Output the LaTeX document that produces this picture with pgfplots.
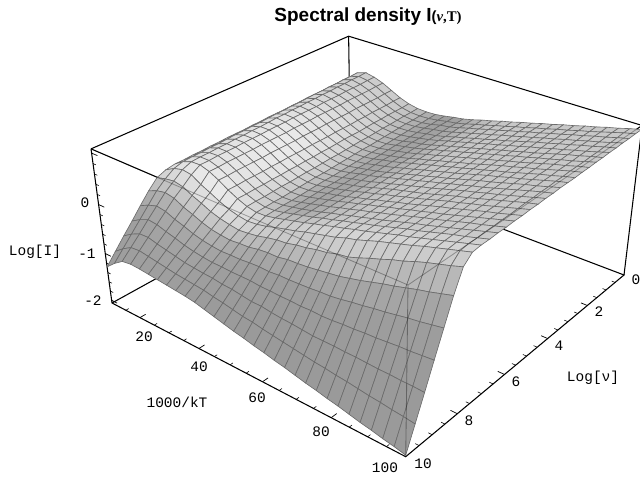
\documentclass[border=0pt]{standalone}
\usepackage{pgfplots}
\usepackage{pgfplotstable}
\usepackage{fontspec}
\pgfplotsset{compat=1.18}
\setmainfont{Liberation Sans}
\newfontfamily\mono{Liberation Mono}
\newfontfamily\serifb{Liberation Serif}
% Log[I] on a grid: 31 values per row (1000/kT = 10,13,...,100), 31 rows (Log[nu] = 0,1/3,...,10)
\pgfplotstableread[row sep=\\]{z\\
.17\\.33\\.39\\.35\\.28\\.18\\.08\\.01\\-.03\\-.04\\-.03\\0\\.04\\.07\\.12\\.18\\.23\\.29\\.34\\.40\\.45\\.51\\.56\\.62\\.67\\.73\\.78\\.84\\.89\\.95\\1.0\\
.17\\.32\\.38\\.35\\.28\\.18\\.08\\0\\-.04\\-.05\\-.04\\-.01\\.03\\.06\\.11\\.17\\.22\\.28\\.33\\.39\\.44\\.50\\.55\\.61\\.66\\.72\\.77\\.83\\.89\\.95\\1.0\\
.16\\.32\\.38\\.34\\.27\\.17\\.07\\0\\-.04\\-.06\\-.05\\-.02\\.03\\.06\\.11\\.17\\.22\\.28\\.33\\.39\\.44\\.50\\.55\\.61\\.66\\.72\\.77\\.83\\.88\\.94\\.99\\
.16\\.31\\.37\\.34\\.27\\.17\\.07\\0\\-.05\\-.06\\-.05\\-.02\\.02\\.05\\.10\\.16\\.21\\.27\\.32\\.38\\.43\\.49\\.54\\.60\\.65\\.71\\.76\\.82\\.87\\.93\\.99\\
.15\\.31\\.37\\.34\\.27\\.17\\.07\\-.01\\-.06\\-.07\\-.06\\-.03\\.01\\.04\\.09\\.15\\.20\\.26\\.31\\.37\\.42\\.48\\.54\\.60\\.65\\.71\\.76\\.82\\.87\\.93\\.98\\
.15\\.30\\.36\\.33\\.27\\.17\\.06\\-.01\\-.06\\-.08\\-.07\\-.04\\0\\.04\\.09\\.15\\.20\\.26\\.31\\.37\\.42\\.48\\.53\\.59\\.64\\.70\\.75\\.81\\.86\\.92\\.98\\
.15\\.30\\.36\\.33\\.26\\.16\\.06\\-.02\\-.07\\-.09\\-.08\\-.05\\0\\.03\\.08\\.14\\.19\\.25\\.30\\.36\\.41\\.47\\.52\\.58\\.63\\.69\\.75\\.81\\.86\\.92\\.97\\
.14\\.29\\.35\\.33\\.26\\.16\\.05\\-.03\\-.08\\-.10\\-.09\\-.05\\-.01\\.03\\.08\\.14\\.19\\.25\\.30\\.36\\.41\\.47\\.52\\.58\\.63\\.69\\.74\\.80\\.85\\.91\\.97\\
.14\\.28\\.35\\.32\\.26\\.16\\.05\\-.03\\-.08\\-.11\\-.10\\-.06\\-.02\\.02\\.07\\.13\\.18\\.24\\.29\\.35\\.40\\.46\\.51\\.57\\.62\\.68\\.74\\.80\\.85\\.91\\.96\\
.13\\.28\\.34\\.32\\.26\\.16\\.05\\-.03\\-.09\\-.11\\-.10\\-.07\\-.03\\.01\\.06\\.12\\.17\\.23\\.28\\.34\\.39\\.45\\.51\\.57\\.62\\.68\\.73\\.79\\.85\\.91\\.96\\
.13\\.27\\.34\\.32\\.25\\.15\\.04\\-.04\\-.10\\-.12\\-.11\\-.08\\-.03\\.01\\.06\\.12\\.17\\.23\\.28\\.34\\.39\\.45\\.50\\.56\\.61\\.67\\.73\\.79\\.84\\.90\\.95\\
.13\\.27\\.33\\.32\\.25\\.15\\.04\\-.05\\-.11\\-.13\\-.12\\-.09\\-.04\\0\\.05\\.11\\.16\\.22\\.27\\.33\\.38\\.44\\.50\\.56\\.61\\.67\\.72\\.78\\.84\\.90\\.95\\
.12\\.26\\.33\\.31\\.25\\.15\\.04\\-.05\\-.11\\-.14\\-.13\\-.09\\-.05\\-.01\\.04\\.10\\.15\\.21\\.26\\.32\\.37\\.43\\.49\\.55\\.60\\.66\\.72\\.78\\.83\\.89\\.95\\
.12\\.25\\.32\\.31\\.24\\.14\\.03\\-.06\\-.12\\-.15\\-.14\\-.10\\-.05\\-.01\\.04\\.10\\.15\\.21\\.26\\.32\\.37\\.43\\.48\\.54\\.59\\.65\\.71\\.77\\.83\\.89\\.94\\
.11\\.25\\.31\\.31\\.24\\.14\\.03\\-.06\\-.13\\-.16\\-.15\\-.11\\-.06\\-.02\\.03\\.09\\.14\\.20\\.25\\.31\\.36\\.42\\.48\\.54\\.59\\.65\\.70\\.76\\.82\\.88\\.94\\
.11\\.24\\.31\\.30\\.24\\.14\\.03\\-.07\\-.13\\-.16\\-.15\\-.12\\-.07\\-.03\\.02\\.08\\.14\\.20\\.25\\.30\\.35\\.41\\.47\\.53\\.58\\.64\\.70\\.76\\.82\\.88\\.93\\
.11\\.24\\.30\\.30\\.24\\.14\\.02\\-.07\\-.14\\-.17\\-.16\\-.12\\-.08\\-.03\\.02\\.08\\.13\\.19\\.24\\.30\\.35\\.41\\.47\\.53\\.58\\.64\\.69\\.75\\.81\\.87\\.93\\
.10\\.23\\.30\\.30\\.23\\.13\\.02\\-.08\\-.15\\-.18\\-.17\\-.13\\-.08\\-.04\\.01\\.07\\.12\\.18\\.23\\.29\\.34\\.40\\.46\\.52\\.57\\.63\\.69\\.75\\.80\\.86\\.92\\
.10\\.22\\.29\\.29\\.23\\.13\\.01\\-.08\\-.15\\-.19\\-.18\\-.14\\-.09\\-.04\\.01\\.07\\.12\\.18\\.23\\.29\\.34\\.40\\.45\\.51\\.56\\.62\\.68\\.74\\.80\\.86\\.92\\
.09\\.22\\.29\\.29\\.23\\.13\\.01\\-.09\\-.16\\-.20\\-.19\\-.15\\-.10\\-.05\\0\\.06\\.11\\.17\\.22\\.28\\.33\\.39\\.45\\.51\\.56\\.62\\.68\\.74\\.79\\.85\\.91\\
.09\\.21\\.28\\.29\\.23\\.13\\.01\\-.09\\-.17\\-.20\\-.19\\-.15\\-.11\\-.06\\-.01\\.05\\.10\\.16\\.21\\.27\\.32\\.38\\.44\\.50\\.55\\.61\\.67\\.73\\.79\\.85\\.91\\
.08\\.21\\.28\\.28\\.22\\.12\\0\\-.10\\-.17\\-.21\\-.20\\-.16\\-.11\\-.06\\-.01\\.05\\.10\\.16\\.21\\.27\\.32\\.38\\.44\\.50\\.55\\.61\\.67\\.73\\.78\\.84\\.90\\
.08\\.20\\.27\\.28\\.22\\.12\\0\\-.10\\-.18\\-.22\\-.21\\-.17\\-.12\\-.07\\-.02\\.04\\.09\\.15\\.20\\.26\\.31\\.37\\.43\\.49\\.54\\.60\\.66\\.72\\.78\\.84\\.90\\
.05\\.15\\.20\\.17\\.05\\-.04\\-.14\\-.22\\-.27\\-.30\\-.28\\-.24\\-.18\\-.13\\-.08\\-.02\\.03\\.08\\.13\\.20\\.25\\.32\\.39\\.45\\.51\\.57\\.64\\.70\\.76\\.82\\.88\\
-.02\\.03\\.06\\.02\\-.08\\-.16\\-.25\\-.31\\-.35\\-.38\\-.36\\-.33\\-.28\\-.24\\-.22\\-.17\\-.14\\-.09\\-.06\\0\\.03\\.10\\.18\\.25\\.33\\.39\\.47\\.54\\.60\\.66\\.73\\
-.20\\-.12\\-.08\\-.12\\-.22\\-.29\\-.37\\-.43\\-.46\\-.48\\-.46\\-.45\\-.41\\-.39\\-.39\\-.35\\-.34\\-.32\\-.29\\-.26\\-.23\\-.18\\-.13\\-.07\\-.01\\.04\\.10\\.16\\.21\\.27\\.33\\
-.41\\-.32\\-.26\\-.29\\-.37\\-.43\\-.50\\-.55\\-.58\\-.60\\-.59\\-.59\\-.57\\-.56\\-.57\\-.55\\-.55\\-.54\\-.53\\-.51\\-.50\\-.47\\-.43\\-.40\\-.36\\-.33\\-.29\\-.25\\-.22\\-.18\\-.14\\
-.63\\-.52\\-.44\\-.46\\-.52\\-.57\\-.63\\-.67\\-.70\\-.72\\-.72\\-.73\\-.73\\-.73\\-.75\\-.75\\-.76\\-.76\\-.77\\-.76\\-.77\\-.76\\-.74\\-.73\\-.71\\-.70\\-.68\\-.66\\-.65\\-.63\\-.61\\
-.84\\-.72\\-.63\\-.62\\-.67\\-.71\\-.75\\-.79\\-.81\\-.83\\-.84\\-.87\\-.88\\-.91\\-.94\\-.94\\-.97\\-.99\\-1.0\\-1.02\\-1.04\\-1.04\\-1.04\\-1.05\\-1.05\\-1.06\\-1.07\\-1.07\\-1.08\\-1.08\\-1.09\\
-1.06\\-.92\\-.81\\-.79\\-.82\\-.85\\-.88\\-.91\\-.93\\-.95\\-.97\\-1.01\\-1.04\\-1.08\\-1.12\\-1.14\\-1.18\\-1.21\\-1.24\\-1.27\\-1.30\\-1.33\\-1.35\\-1.38\\-1.40\\-1.43\\-1.46\\-1.48\\-1.51\\-1.53\\-1.56\\
-1.28\\-1.12\\-.99\\-.96\\-.97\\-.99\\-1.01\\-1.03\\-1.05\\-1.07\\-1.10\\-1.15\\-1.20\\-1.25\\-1.30\\-1.34\\-1.39\\-1.43\\-1.48\\-1.52\\-1.57\\-1.62\\-1.66\\-1.71\\-1.75\\-1.80\\-1.85\\-1.89\\-1.94\\-1.98\\-2.03\\
}\Ztab
\pgfplotstablecreatecol[create col/set={0}]{d}{\Ztab}
\newcommand\seg[2]{\addplot[#1] table[row sep=\\,
  x expr={Px(\thisrow{x},\thisrow{n},\thisrow{z})},
  y expr={Py(\thisrow{x},\thisrow{n},\thisrow{z})}]{x n z\\#2};}
\newcommand\lab[3]{\node[font=\mono\fontsize{10.3}{10}\selectfont,inner sep=0pt] at (axis cs:#1,{478-#2}) {#3};}
\begin{document}
\begin{tikzpicture}
\useasboundingbox (0,0) rectangle (16cm,11.95cm);
\begin{axis}[
  at={(0,0)}, anchor=south west,
  scale only axis, width=16cm, height=11.95cm,
  xmin=0, xmax=640, ymin=0, ymax=478,
  axis lines=none, clip=true,
  colormap={bw}{gray(0cm)=(0); gray(1cm)=(1)},
  point meta min=0, point meta max=1,
  declare function={
    Uu(\a)=(100-\a)/90; Vv(\b)=(10-\b)/10; Ww(\c)=(\c+2.06)/3.14;
    Den(\a,\b,\c)=1+.19*Uu(\a)+.24*Vv(\b)-.086*Ww(\c);
    Px(\a,\b,\c)=(405.7-272.42*Uu(\a)+368.06*Vv(\b)-32.79*Ww(\c))/Den(\a,\b,\c);
    Py(\a,\b,\c)=478-(456.7-96.13*Uu(\a)-115.7*Vv(\b)-196.21*Ww(\c))/Den(\a,\b,\c);
    Sg(\t)=1/(1+exp(-\t));
    Gx(\i)=10+3*(mod(\i+.5,31)-.5);
    Gn(\i)=floor((\i+.5)/31)/3;
    Gr(\a,\b)=.78+.14*exp(-((\a-25)/16)^2)*exp(-((\b-5)/3.5)^2)
      -.17*exp(-((\a-45)/10)^2)*(1-Sg((\b-7.3)*4))
      +.06*exp(-((\b-7.6)/.5)^2)
      -.18*Sg((\b-8.2)*5);
  },
]
% box, back and outer edges
\seg{black,line width=.75pt}{10 10 1.08\\10 0 1.08\\100 0 1.08\\100 0 -2.06\\}
\seg{black,line width=.75pt}{10 0 1.08\\10 0 -2.06\\}
\seg{black,line width=.75pt}{10 10 1.08\\100 10 1.08\\100 0 1.08\\}
\seg{black,line width=.75pt}{10 10 1.08\\10 10 -2.06\\100 10 -2.06\\100 0 -2.06\\10 0 -2.06\\10 10 -2.06\\}
% ticks
\pgfplotsinvokeforeach{15,25,30,35,45,50,55,65,70,75,85,90,95}{\seg{black,line width=.4pt}{#1 10 -2.06\\#1 9.9 -2.06\\}}
\pgfplotsinvokeforeach{20,40,60,80}{\seg{black,line width=.5pt}{#1 10 -2.06\\#1 9.8 -2.06\\}}
\pgfplotsinvokeforeach{.5,1,1.5,2.5,3,3.5,4.5,5,5.5,6.5,7,7.5,8.5,9,9.5}{\seg{black,line width=.4pt}{100 #1 -2.06\\99 #1 -2.06\\}}
\pgfplotsinvokeforeach{2,4,6,8}{\seg{black,line width=.5pt}{100 #1 -2.06\\98.2 #1 -2.06\\}}
\pgfplotsinvokeforeach{-1.8,-1.6,-1.4,-1.2,-.8,-.6,-.4,-.2,.2,.4,.6,.8}{\seg{black,line width=.4pt}{10 10 #1\\11 10 #1\\}}
\pgfplotsinvokeforeach{-2,-1,0,1}{\seg{black,line width=.5pt}{10 10 #1\\12 10 #1\\}}
% surface
\addplot[surf, shader=faceted, faceted color=black!58, line width=.45pt,
  mesh/rows=31, mesh/cols=31, point meta=explicit]
  table[
    x expr={Px(Gx(\coordindex),Gn(\coordindex),\thisrow{z})},
    y expr={Py(Gx(\coordindex),Gn(\coordindex),\thisrow{z})},
    meta expr={Gr(Gx(\coordindex),Gn(\coordindex))}
  ]{\Ztab};
% box edges seen through the surface
\seg{black,opacity=.3,line width=.6pt}{10 10 1.08\\100 10 1.08\\100 0 1.08\\}
\seg{black,opacity=.35,line width=.6pt}{100 10 1.08\\100 10 -2.06\\}
% texts
\node[font=\bfseries\fontsize{13.5}{14}\selectfont,inner sep=0pt] at (axis cs:368,{478-17}) {Spectral density I{\fontsize{10.5}{11}\selectfont(\serifb\textit{ν},T)}};
\lab{144}{337}{20}\lab{199}{367}{40}\lab{257}{398}{60}\lab{321}{432}{80}\lab{385}{468}{100}
\lab{177}{402}{1000/kT}
\lab{636}{280}{0}\lab{599}{312}{2}\lab{559}{346}{4}\lab{516}{382}{6}\lab{469}{421}{8}\lab{423}{464}{10}
\lab{593}{378}{Log[ν]}
\lab{85}{203}{0}\lab{87}{254}{-1}\lab{93}{301}{-2}
\lab{35}{252}{Log[I]}
\end{axis}
\end{tikzpicture}
\end{document}
